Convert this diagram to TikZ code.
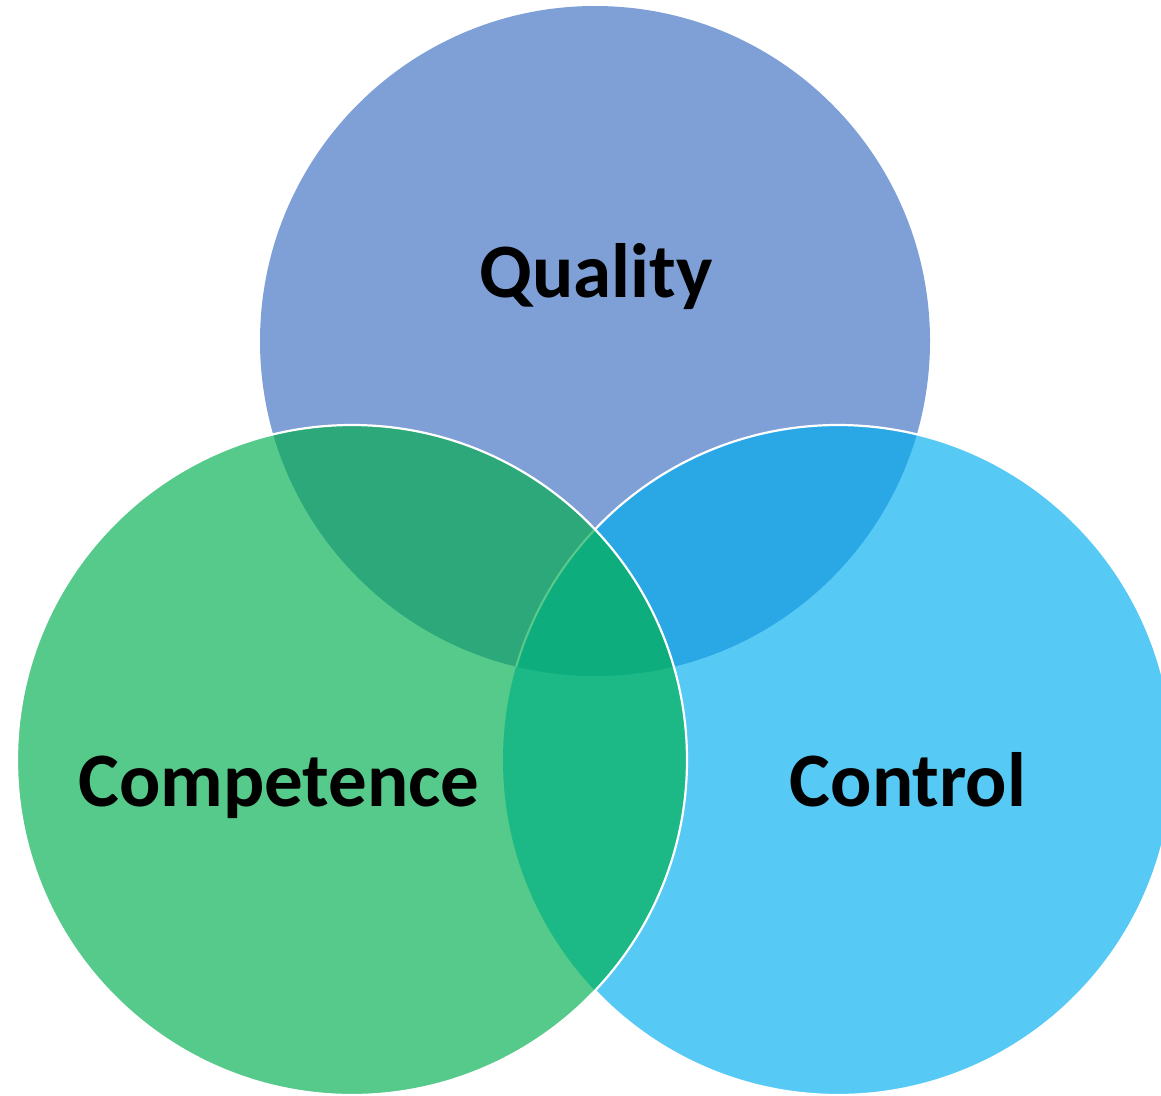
\documentclass[tikz,border=0pt]{standalone}
\usepackage{fontspec}
\setmainfont{Carlito}
\definecolor{cTop}{HTML}{7FA0D6}
\definecolor{cLeft}{HTML}{55CA8A}
\definecolor{cRight}{HTML}{56C9F5}
\definecolor{cTL}{HTML}{2CA87A}
\definecolor{cTR}{HTML}{2AA8E6}
\definecolor{cLR}{HTML}{1CB886}
\definecolor{cAll}{HTML}{0EAD7E}
\definecolor{cFaint}{HTML}{5CC98C}
\tikzset{
  lbl/.style={font=\fontsize{77}{80}\selectfont\bfseries, text=black, inner sep=0pt, anchor=base},
  rim/.style={draw=white, line width=2.2pt},
}
\newcommand{\rr}{335}
\begin{document}
\begin{tikzpicture}[x=1pt,y=-1pt]
\useasboundingbox (0,0) rectangle (1161,1095);
\coordinate (T) at (595,341);
\coordinate (L) at (352,760);
\coordinate (R) at (838,760);
\begin{scope}
\clip (0,0) rectangle (1161,1095);
% base fills
\fill[cTop] (T) circle[radius=\rr];
\fill[cRight] (R) circle[radius=\rr];
\fill[cLeft] (L) circle[radius=\rr];
% pairwise overlaps
\begin{scope}
  \clip (T) circle[radius=\rr];
  \fill[cTR] (R) circle[radius=\rr];
  \fill[cTL] (L) circle[radius=\rr];
\end{scope}
\begin{scope}
  \clip (L) circle[radius=\rr];
  \fill[cLR] (R) circle[radius=\rr];
  \clip (T) circle[radius=\rr];
  \fill[cAll] (R) circle[radius=\rr];
\end{scope}
% right circle rim outside left circle
\begin{scope}[even odd rule]
  \clip (-10,-10) rectangle (1200,1200) (L) circle[radius=\rr];
  \draw[rim] (R) circle[radius=\rr];
\end{scope}
% faint rim of right circle seen through left circle inside top circle
\begin{scope}
  \clip (L) circle[radius=\rr];
  \clip (T) circle[radius=\rr];
  \draw[draw=cFaint, line width=2pt] (R) circle[radius=\rr];
\end{scope}
% left circle rim
\draw[rim] (L) circle[radius=\rr];
\end{scope}
\node[lbl] (quality) at (596,297) {Quality};
\node[lbl] (competence) at (279,806) {Competence};
\node[lbl] (control) at (908,806) {Control};
\end{tikzpicture}
\end{document}
